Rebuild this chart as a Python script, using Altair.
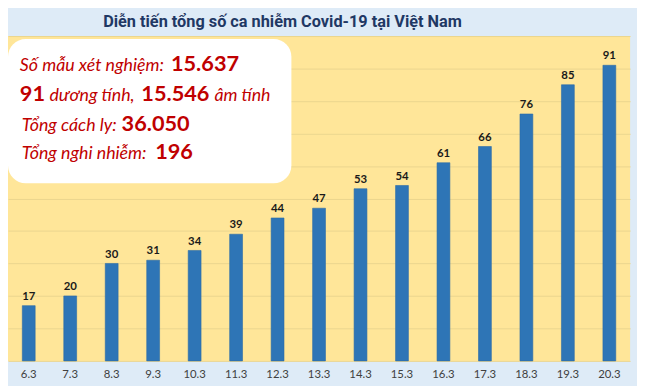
import altair as alt
import pandas as pd

dates = ["6.3", "7.3", "8.3", "9.3", "10.3", "11.3", "12.3", "13.3",
         "14.3", "15.3", "16.3", "17.3", "18.3", "19.3", "20.3"]
cases = [17, 20, 30, 31, 34, 39, 44, 47, 53, 54, 61, 66, 76, 85, 91]

title_text = "Diễn tiến tổng số ca nhiễm Covid-19 tại Việt Nam"
info_italic = ["Số mẫu xét nghiệm:", "dương tính,", "âm tính", "Tổng cách ly:", "Tổng nghi nhiễm:"]
info_bold = ["15.637", "91", "15.546", "36.050", "196"]

df = pd.DataFrame({"date": dates, "cases": cases})
one = pd.DataFrame({"k": [0]})

W, H = 630, 329
RED = "#C00000"

x = alt.X("date:N", sort=dates,
          scale=alt.Scale(paddingInner=0.69, paddingOuter=0.345),
          axis=alt.Axis(title=None, labelAngle=0, ticks=False, domain=False,
                        labelFont="Lato", labelFontSize=11.5, labelColor="#404040",
                        labelPadding=8, grid=False))
y = alt.Y("cases:Q", scale=alt.Scale(domain=[0, 100], nice=False),
          axis=alt.Axis(title=None, labels=False, ticks=False, domain=False,
                        values=list(range(0, 101, 10)), grid=True,
                        gridColor="#EBD58E", gridWidth=1))

base = alt.Chart(df)
bars = base.mark_bar(color="#2E75B6", stroke="#2B6BA8", strokeWidth=0.6).encode(x=x, y=y)
labels = base.mark_text(dy=-4, baseline="bottom", font="Lato", fontWeight="bold",
                        fontSize=11.5, color="#1a1a1a").encode(x=x, y=y, text="cases:Q")

box = alt.Chart(one).mark_rect(color="white", cornerRadius=18).encode(
    x=alt.value(0), x2=alt.value(287), y=alt.value(3), y2=alt.value(149))


def seg(text, px, py, bold):
    m = alt.Chart(one).mark_text(
        text=text, align="left", baseline="alphabetic", font="Lato",
        fontStyle="normal" if bold else "italic",
        fontWeight="bold" if bold else "normal",
        fontSize=22 if bold else 18, color=RED)
    return m.encode(x=alt.value(px), y=alt.value(py))


segs = [
    seg(info_italic[0], 12, 35, False), seg(info_bold[0], 165, 35, True),
    seg(info_bold[1], 12, 66, True), seg(info_italic[1], 42, 66, False),
    seg(info_bold[2], 135, 66, True), seg(info_italic[2], 209, 66, False),
    seg(info_italic[3], 14, 96, False), seg(info_bold[3], 115, 96, True),
    seg(info_italic[4], 14, 125, False), seg(info_bold[4], 149, 125, True),
]

title = alt.Chart(one).mark_text(
    text=title_text, align="center", baseline="alphabetic",
    font="Roboto", fontWeight="bold", fontSize=16.5, color="#1F3864").encode(
    x=alt.value(278), y=alt.value(-9))

chart = alt.layer(bars, labels, box, *segs, title).properties(
    width=W, height=H,
    autosize=alt.AutoSizeParams(type="none"),
    padding={"left": 0, "top": 26, "right": 7, "bottom": 23},
    background="#DEEBF7",
).configure_view(fill="#FFE699", stroke=None)

chart.save("out.html", embed_options={"renderer": "svg", "actions": False})
